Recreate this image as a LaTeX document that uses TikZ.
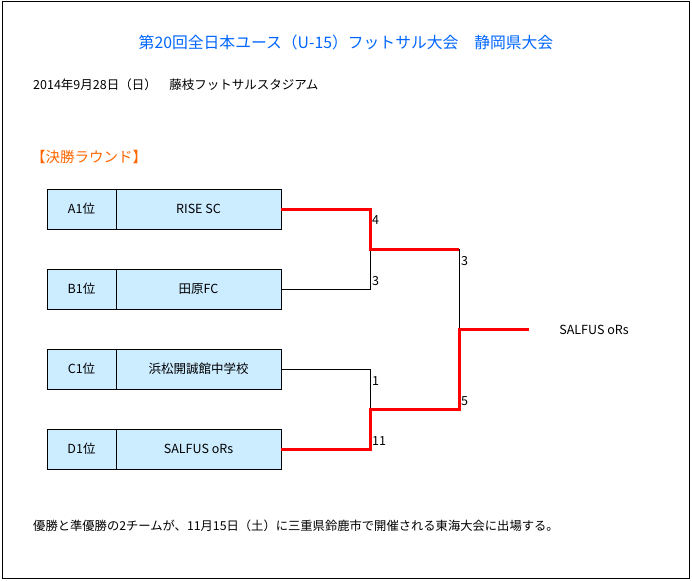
\documentclass[tikz,border=0pt]{standalone}
\usepackage{fontspec}
\setmainfont{Noto Sans CJK JP}
\definecolor{titleblue}{RGB}{0,102,255}
\definecolor{roundorange}{RGB}{255,102,0}
\definecolor{cellblue}{RGB}{204,236,255}
\tikzset{
  rankcell/.style={draw, fill=cellblue, minimum width=69pt, minimum height=40pt, inner sep=0pt, font=\fontsize{12.5}{14}\selectfont},
  teamcell/.style={draw, fill=cellblue, minimum width=165pt, minimum height=40pt, inner sep=0pt, font=\fontsize{12.5}{14}\selectfont},
  score/.style={anchor=west, inner sep=1pt, font=\fontsize{12.5}{14}\selectfont},
  winline/.style={red, line width=3pt},
  loseline/.style={black, line width=0.8pt}
}
\begin{document}
\begin{tikzpicture}[x=1pt, y=-1pt]
  \useasboundingbox (0,0) rectangle (692,580);
  \draw[line width=1pt] (2,2) rectangle (689,578);

  % Heading
  \node[text=titleblue, font=\fontsize{15.8}{18}\selectfont] (title) at (346,42) {第20回全日本ユース（U-15）フットサル大会\quad 静岡県大会};
  \node[anchor=west, inner sep=0pt, font=\fontsize{12.5}{14}\selectfont] (date) at (33,85) {2014年9月28日（日）\quad 藤枝フットサルスタジアム};
  \node[anchor=west, inner sep=0pt, text=roundorange, font=\fontsize{14.5}{16}\selectfont] (round) at (31,157) {【決勝ラウンド】};

  % Teams
  \node[rankcell] (ra) at (81.5,209) {A1位};
  \node[teamcell] (ta) at (198.5,209) {RISE SC};
  \node[rankcell] (rb) at (81.5,289) {B1位};
  \node[teamcell] (tb) at (198.5,289) {田原FC};
  \node[rankcell] (rc) at (81.5,369) {C1位};
  \node[teamcell] (tc) at (198.5,369) {浜松開誠館中学校};
  \node[rankcell] (rd) at (81.5,449) {D1位};
  \node[teamcell] (td) at (198.5,449) {SALFUS oRs};

  % Junctions
  \coordinate (ja) at (370,209);
  \coordinate (jb) at (370,289);
  \coordinate (jab) at (370,249);
  \coordinate (jc) at (370,369);
  \coordinate (jd) at (370,449);
  \coordinate (jcd) at (370,409);
  \coordinate (fab) at (459,249);
  \coordinate (fcd) at (459,409);
  \coordinate (fin) at (459,329);
  \coordinate (champ) at (529,329);

  % Losing paths
  \draw[loseline] (tb.east) -- (jb) -- (jab);
  \draw[loseline] (tc.east) -- (jc) -- (jcd);
  \draw[loseline] (fab) -- (fin);

  % Winning paths
  \draw[winline] (ta.east) -- (ja) -- (jab) -- (fab);
  \draw[winline] (td.east) -- (jd) -- (jcd) -- (fcd) -- (fin) -- (champ);

  % Scores
  \node[score] (sa) at (371,220) {4};
  \node[score] (sb) at (371,281) {3};
  \node[score] (sc) at (371,381) {1};
  \node[score] (sd) at (371,441) {11};
  \node[score] (sab) at (460,261) {3};
  \node[score] (scd) at (460,401) {5};

  % Champion
  \node[font=\fontsize{12.5}{14}\selectfont] (winner) at (594,330) {SALFUS oRs};

  % Note
  \node[anchor=west, inner sep=0pt, font=\fontsize{12.3}{14}\selectfont] (note) at (33,526) {優勝と準優勝の2チームが、11月15日（土）に三重県鈴鹿市で開催される東海大会に出場する。};
\end{tikzpicture}
\end{document}
